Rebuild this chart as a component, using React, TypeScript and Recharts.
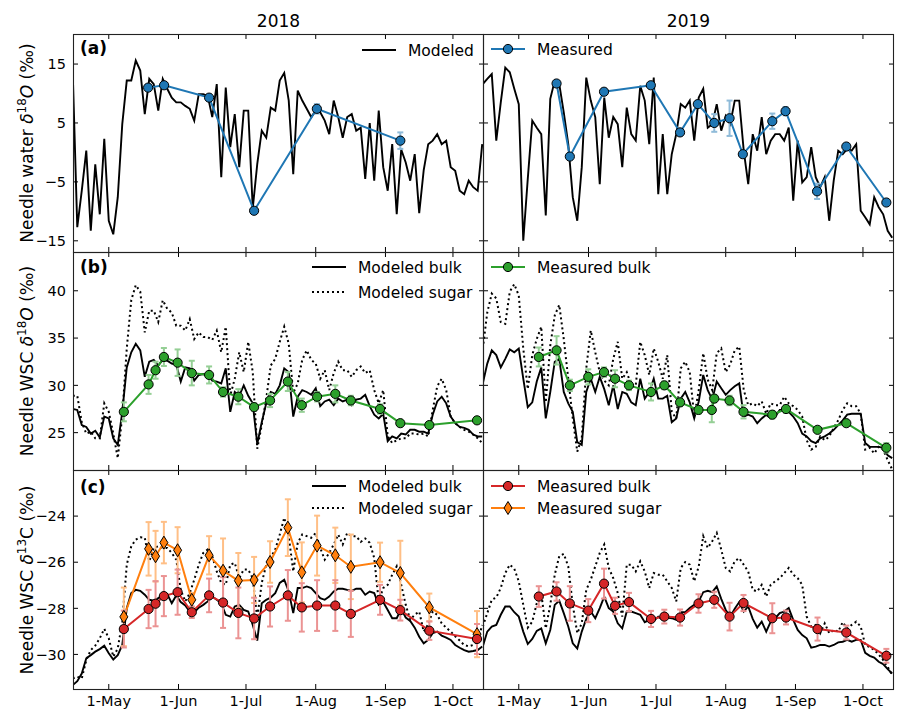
import React from "react";
import { ComposedChart, Line, XAxis, YAxis, ErrorBar } from "recharts";

const BLUE = "#1f77b4";
const GREEN = "#2ca02c";
const RED = "#d62728";
const ORANGE = "#ff7f0e";
const FONT = "'DejaVu Sans', sans-serif";

const W = 901;
const H = 710;

// x is day of year (2018 and 2019 are not leap years)
const monthTicks = [121, 152, 182, 213, 244, 274];
const monthLabels = ["1-May", "1-Jun", "1-Jul", "1-Aug", "1-Sep", "1-Oct"];
const xDomain: [number, number] = [105.1, 287.8];

// modeled series: one value every 2 days from day 105
const modelStart = 105;
const modelStep = 2;

const waterModel2018 = [
  13.3, -12.7, -6.5, 0.3, -13.3, -2.0, -10.5, 2.3, -11.6, -13.9,
  -7.6, 4.8, 12.2, 12.2, 15.6, 13.9, 6.5, 12.5, 11.6, 7.1,
  12.5, 10.8, 9.3, 8.5, 8.5, 7.9, 7.4, 5.4, 9.9, 9.9,
  9.6, 6.0, 11.6, -4.2, 11.0, 0.9, 6.5, -2.5, 7.1, 7.1,
  -9.5, -2.0, 3.7, 2.5, 7.6, 7.1, 12.2, 13.5, 8.8, -3.7,
  10.5, 8.8, 7.4, 6.0, 7.1, 6.8, 5.4, 3.1, 8.8, 6.0,
  2.5, 6.0, 6.5, 3.7, 4.2, -4.5, 5.0, -4.8, 7.1, -2.5,
  -6.5, 1.4, -10.5, 0.5, -1.7, -4.8, -0.3, -10.3, -3.0, 1.4,
  2.0, 3.1, 1.4, 2.0, -2.5, -3.1, -6.5, -7.1, -4.8, -5.9,
  -6.5, 1.4,
];
const waterModel2019 = [
  11.6, 12.5, 13.3, 2.0, 8.5, 14.4, 13.6, 10.8, 8.2, -15.0,
  -4.5, 5.4, 4.2, 3.1, -10.7, 9.1, 12.2, 11.6, 6.8, 1.4,
  -7.6, -11.6, -2.5, 12.7, 8.8, 6.0, -5.4, 9.3, 2.5, 6.0,
  4.8, -2.5, 7.6, 3.1, 2.0, 11.3, 8.8, 1.4, 12.7, -7.1,
  3.1, -7.1, -0.3, 3.1, 8.2, 7.6, 8.8, 2.0, 9.3, 10.8,
  4.2, 4.8, 8.2, 3.7, 6.2, 4.8, 8.8, 8.8, 0.3, -5.4,
  3.1, 0.3, 6.0, -0.3, 2.0, 3.1, 3.1, 2.0, 4.2, -8.2,
  2.0, -5.1, -4.2, 0.9, -4.2, -5.9, -4.2, -11.6, -4.8, 0.3,
  -0.3, 0.6, 0.3, 1.4, -9.9, -11.0, -12.2, -7.6, -9.3, -10.5,
  -13.3, -14.5,
];

const o18Bulk2018 = [
  27.5, 27.4, 25.8, 25.6, 24.9, 25.2, 24.5, 26.7, 26.5, 24.4,
  23.7, 27.2, 31.9, 33.5, 34.4, 33.7, 30.9, 32.5, 32.7, 32.1,
  32.7, 32.6, 32.3, 32.2, 30.4, 31.9, 31.8, 30.5, 31.1, 31.2,
  31.1, 30.5, 30.4, 30.2, 31.8, 27.2, 29.3, 28.9, 30.0, 28.9,
  28.1, 23.8, 26.1, 28.1, 29.3, 29.1, 30.0, 31.8, 31.4, 26.7,
  28.8, 29.5, 29.3, 29.0, 29.7, 27.8, 28.3, 28.5, 27.9, 28.6,
  28.3, 28.5, 27.9, 28.5, 28.6, 29.0, 27.8, 26.9, 26.5, 27.0,
  24.1, 24.6, 24.4, 24.9, 24.8, 25.3, 25.3, 25.1, 25.1, 24.9,
  26.9, 28.3, 28.8, 28.1, 26.7, 26.0, 25.6, 25.5, 25.3, 24.8,
  24.6, 24.6,
];
const o18Sugar2018 = [
  28.9, 28.9, 26.1, 24.9, 25.1, 24.4, 24.4, 28.1, 27.2, 24.9,
  22.3, 26.8, 33.9, 39.0, 40.6, 39.9, 35.6, 37.9, 37.9, 36.7,
  39.0, 38.1, 37.7, 36.3, 36.3, 35.8, 37.0, 34.9, 35.6, 35.1,
  35.1, 34.8, 35.8, 33.5, 36.2, 28.9, 30.7, 33.5, 31.4, 34.6,
  31.4, 23.3, 25.8, 28.6, 32.1, 32.8, 34.6, 36.2, 34.4, 29.2,
  30.2, 32.7, 33.7, 32.7, 32.3, 30.7, 31.6, 29.5, 31.3, 32.5,
  31.6, 31.6, 30.9, 31.6, 32.0, 31.3, 31.6, 29.5, 28.1, 29.5,
  24.6, 23.9, 24.2, 24.4, 24.4, 24.9, 24.9, 24.8, 24.9, 24.6,
  27.4, 29.9, 30.7, 29.5, 26.7, 26.0, 25.6, 25.3, 25.1, 24.8,
  24.4, 23.9,
];
const o18Bulk2019 = [
  30.2, 32.3, 33.7, 33.2, 31.9, 32.8, 33.8, 33.5, 33.9, 30.7,
  27.7, 28.2, 30.4, 31.9, 26.5, 29.3, 32.5, 32.8, 29.3, 28.1,
  27.2, 24.0, 23.7, 29.3, 30.7, 29.3, 30.9, 29.6, 27.9, 30.0,
  27.5, 29.3, 29.1, 28.2, 27.9, 30.7, 28.6, 29.3, 30.7, 28.6,
  28.6, 28.9, 26.1, 26.5, 28.6, 29.3, 28.2, 26.5, 28.3, 31.1,
  29.5, 28.5, 30.4, 29.7, 29.0, 29.5, 29.9, 30.2, 26.7, 26.9,
  26.7, 26.0, 26.5, 26.9, 26.5, 26.7, 27.4, 27.4, 27.2, 26.7,
  26.0, 24.9, 24.6, 24.1, 23.9, 24.4, 24.6, 24.9, 25.3, 25.8,
  26.3, 26.9, 27.0, 27.0, 27.0, 23.9, 23.5, 23.5, 23.5, 23.4,
  22.6, 22.3,
];
const o18Sugar2019 = [
  33.9, 37.7, 39.7, 39.2, 36.7, 36.5, 39.9, 40.7, 39.5, 33.9,
  29.6, 33.2, 34.9, 36.2, 28.2, 34.2, 37.4, 38.5, 34.9, 30.7,
  26.5, 23.0, 24.4, 31.8, 35.8, 33.5, 31.4, 30.5, 30.0, 32.8,
  34.6, 30.7, 31.4, 30.0, 30.0, 34.6, 33.2, 31.1, 33.9, 32.5,
  30.7, 33.2, 27.2, 26.5, 31.8, 32.5, 31.4, 26.7, 29.5, 33.4,
  30.6, 29.5, 33.4, 33.9, 31.4, 32.2, 33.7, 34.1, 29.5, 27.9,
  28.1, 27.8, 28.3, 27.0, 28.1, 27.9, 27.9, 28.8, 28.1, 27.8,
  27.4, 26.7, 24.2, 23.2, 23.5, 24.6, 24.2, 24.6, 25.5, 26.3,
  27.4, 28.1, 27.8, 27.8, 27.0, 23.2, 23.4, 22.8, 23.5, 23.2,
  22.1, 21.1,
];

const c13Bulk2018 = [
  -31.33, -31.16, -30.83, -30.17, -30.03, -29.88, -29.77, -29.62, -29.95, -30.22,
  -30.03, -29.59, -28.0, -27.34, -27.2, -27.24, -27.41, -27.63, -27.67, -27.56,
  -27.44, -27.38, -27.78, -27.44, -27.73, -27.88, -28.14, -28.18, -27.97, -27.85,
  -27.7, -27.49, -27.63, -27.78, -28.28, -28.36, -27.92, -27.85, -28.07, -28.14,
  -28.72, -29.4, -27.78, -27.63, -27.53, -27.34, -26.9, -26.76, -27.27, -28.21,
  -27.12, -27.12, -27.05, -27.12, -27.34, -27.56, -27.63, -27.49, -27.27, -27.15,
  -27.15, -27.2, -27.24, -27.15, -27.15, -27.41, -27.27, -27.34, -27.85, -27.73,
  -28.07, -28.43, -28.43, -28.02, -28.4, -28.55, -28.84, -29.23, -29.52, -29.37,
  -29.08, -29.01, -29.19, -29.27, -29.37, -29.59, -29.71, -29.81, -29.88, -29.85,
  -29.81, -29.66,
];
const c13Sugar2018 = [
  -31.04, -30.97, -31.04, -30.25, -29.81, -29.62, -29.3, -28.89, -29.3, -30.1,
  -29.74, -28.58, -26.11, -25.31, -25.02, -24.92, -24.94, -25.96, -25.38, -25.31,
  -25.38, -25.38, -25.6, -25.89, -27.2, -27.7, -27.34, -26.76, -26.11, -25.6,
  -25.45, -25.74, -26.4, -26.9, -26.98, -26.11, -26.03, -26.69, -26.32, -26.32,
  -26.69, -28.43, -26.9, -26.11, -25.79, -25.45, -24.8, -24.07, -24.87, -26.4,
  -25.16, -24.8, -24.87, -24.94, -24.73, -25.38, -25.89, -25.6, -25.23, -24.8,
  -25.23, -24.73, -24.87, -24.87, -25.12, -24.97, -25.16, -25.82, -27.7, -27.12,
  -26.98, -26.54, -26.18, -26.98, -27.85, -28.5, -28.28, -28.14, -29.01, -28.69,
  -28.14, -28.28, -28.65, -28.84, -29.01, -29.21, -29.4, -29.59, -29.65, -29.59,
  -29.45, -28.72,
];
const c13Bulk2019 = [
  -29.66, -29.01, -28.79, -28.72, -28.28, -27.92, -27.92, -28.17, -28.36, -29.01,
  -29.55, -29.33, -28.98, -28.87, -29.52, -28.94, -27.85, -27.67, -28.21, -28.79,
  -29.52, -29.74, -29.01, -28.46, -28.14, -28.43, -27.99, -27.49, -27.99, -28.14,
  -28.65, -28.87, -28.14, -28.14, -28.21, -28.28, -28.6, -28.5, -28.55, -28.36,
  -28.5, -28.4, -28.43, -28.5, -28.17, -28.17, -27.99, -27.85, -27.7, -27.3,
  -27.24, -27.3, -27.05, -27.59, -28.07, -28.36, -28.02, -27.73, -28.14, -27.92,
  -28.46, -28.84, -28.58, -29.01, -28.58, -28.43, -28.21, -28.14, -27.99, -28.5,
  -28.94, -29.16, -29.3, -29.71, -29.66, -29.59, -29.59, -29.66, -29.59, -29.48,
  -29.45, -29.37, -29.45, -29.37, -29.37, -29.93, -30.06, -30.14, -30.32, -30.42,
  -30.64, -30.83,
];
const c13Sugar2019 = [
  -28.79, -28.21, -27.63, -27.53, -27.12, -26.47, -26.11, -26.28, -26.83, -27.85,
  -28.84, -28.58, -27.78, -27.34, -28.87, -27.85, -26.54, -25.74, -25.64, -26.18,
  -27.85, -29.08, -28.65, -27.2, -26.76, -26.18, -25.6, -25.23, -26.25, -26.69,
  -27.34, -28.36, -26.11, -26.11, -26.4, -25.96, -26.4, -27.12, -26.47, -26.54,
  -26.54, -26.83, -27.12, -27.7, -26.25, -25.99, -26.11, -26.83, -26.18, -24.87,
  -25.38, -25.09, -24.73, -25.45, -26.25, -26.4, -25.96, -25.82, -26.11, -26.4,
  -27.2, -27.27, -26.98, -27.49, -26.98, -26.83, -26.69, -26.47, -26.25, -26.54,
  -26.69, -26.98, -28.36, -28.79, -28.72, -29.08, -28.65, -29.08, -28.94, -29.01,
  -28.6, -28.87, -28.72, -28.58, -28.79, -29.59, -29.68, -29.81, -30.0, -30.25,
  -30.54, -30.9,
];

// measured samples
const waterDays2018 = [138.5, 145.6, 165.6, 185.6, 213.5, 250.6];
const waterMeas2018 = [11.0, 11.4, 9.3, -9.9, 7.4, 2.0];
const waterErr2018 = [0.3, 0.3, 0.4, 0.3, 0.8, 1.4];

const waterDays2019 = [137.8, 143.7, 158.9, 179.7, 192.7, 200.6, 207.9, 214.7, 220.6, 233.7, 239.6, 253.6, 266.6, 284.4];
const waterMeas2019 = [11.7, -0.7, 10.3, 11.4, 3.4, 8.2, 5.0, 5.8, -0.3, 5.3, 7.0, -6.6, 1.0, -8.5];
const waterErr2019 = [0.3, 0.3, 0.5, 0.3, 0.3, 0.4, 1.5, 3.0, 0.3, 1.3, 0.7, 1.3, 0.3, 0.3];

const wscDays2018 = [127.7, 138.7, 141.8, 145.5, 151.6, 157.9, 165.6, 171.8, 178.6, 185.6, 192.7, 200.6, 206.8, 213.6, 221.7, 228.6, 241.6, 250.6, 263.5, 284.7];
const o18Meas2018 = [27.2, 30.1, 31.6, 33.0, 32.4, 31.3, 31.1, 29.3, 28.8, 27.7, 28.4, 30.4, 27.9, 28.8, 29.1, 28.4, 27.5, 26.0, 25.8, 26.3];
const o18Err2018 = [1.0, 1.0, 0.9, 0.95, 1.4, 1.3, 0.9, 0.5, 0.8, 0.4, 0.7, 1.0, 0.7, 0.5, 0.9, 0.5, 0.5, 0.3, 0.3, 0.3];
const c13BulkMeas2018 = [-28.9, -28.03, -27.8, -27.47, -27.3, -28.17, -27.44, -27.75, -28.2, -28.44, -27.92, -27.44, -27.96, -27.88, -27.88, -28.24, -27.63, -28.08, -28.97, -29.33];
const c13BulkErr2018 = [0.8, 0.83, 0.98, 0.87, 0.98, 0.25, 0.73, 1.1, 1.1, 0.9, 0.87, 1.1, 1.05, 1.1, 1.1, 1.0, 0.65, 0.45, 0.4, 0.65];
const c13SugarMeas2018 = [-28.37, -25.42, -25.74, -25.15, -25.48, -27.63, -25.7, -26.37, -26.8, -26.77, -25.99, -24.5, -26.44, -25.28, -25.7, -26.2, -26.0, -26.47, -27.96, -29.12];
const c13SugarErr2018 = [1.27, 1.16, 1.1, 0.9, 1.0, 0.3, 0.83, 1.4, 1.2, 1.0, 0.9, 1.23, 1.3, 1.3, 1.2, 1.4, 0.85, 1.4, 0.6, 1.0];

const o18Days2019 = [129.9, 137.8, 143.7, 151.9, 158.9, 163.8, 170.0, 179.8, 185.7, 192.7, 200.9, 206.8, 207.9, 214.7, 220.9, 233.7, 239.8, 253.8, 266.6, 284.4];
const o18Meas2019 = [33.0, 33.7, 30.0, 30.9, 31.4, 30.7, 30.0, 29.3, 30.0, 28.2, 27.4, 27.4, 28.6, 28.4, 27.2, 26.9, 27.5, 25.3, 26.0, 23.4];
const o18Err2019 = [1.0, 1.5, 0.6, 0.8, 0.5, 0.9, 0.5, 0.9, 0.4, 0.4, 0.4, 1.3, 0.4, 0.5, 0.7, 0.4, 0.4, 0.3, 0.3, 0.5];

const c13Days2019 = [129.9, 137.8, 143.7, 151.9, 158.9, 163.8, 170.0, 179.8, 185.7, 192.7, 200.9, 207.9, 214.7, 220.9, 233.7, 239.8, 253.8, 266.6, 284.4];
const c13BulkMeas2019 = [-27.49, -27.27, -27.79, -28.1, -26.93, -27.89, -27.73, -28.46, -28.36, -28.4, -27.79, -27.63, -28.36, -27.77, -28.43, -28.4, -28.9, -29.05, -30.06];
const c13BulkErr2019 = [0.45, 0.4, 0.75, 0.5, 0.65, 0.35, 0.4, 0.35, 0.3, 0.35, 0.4, 0.35, 0.6, 0.35, 0.65, 0.3, 0.5, 0.3, 0.3];

const toModel = (vals: number[]) => vals.map((v, i) => ({ day: modelStart + modelStep * i, v }));
const toMeas = (days: number[], vals: number[], errs: number[]) =>
  days.map((d, i) => ({ day: d, v: vals[i], e: errs[i] }));

const cols = [
  { left: 73, right: 484 },
  { left: 483, right: 894 },
];
const rows = [
  { top: 34, bottom: 252 },
  { top: 252, bottom: 470 },
  { top: 470, bottom: 689 },
];

const fmt = (v: number) => (v < 0 ? `\u2212${Math.abs(v)}` : `${v}`);

type PanelProps = {
  col: number;
  row: number;
  yDomain: [number, number];
  yTicks: number[];
  children: React.ReactNode;
};

// axes keep 1px so recharts still renders their ticks
const AXIS_PX = 1;

const Panel = ({ col, row, yDomain, yTicks, children }: PanelProps) => {
  const c = cols[col];
  const r = rows[row];
  const showY = col === 0;
  const showX = row === 2;
  return (
    <div style={{ position: "absolute", left: 0, top: 0 }}>
      <ComposedChart
        width={W}
        height={H}
        margin={{ top: r.top, bottom: H - r.bottom - AXIS_PX, left: c.left - AXIS_PX, right: W - c.right }}
      >
        <XAxis
          type="number"
          dataKey="day"
          domain={xDomain}
          allowDataOverflow
          ticks={monthTicks}
          interval={0}
          height={AXIS_PX}
          axisLine={false}
          tickLine={false}
          tick={(p: any) => {
            const x = p.payload?.coordinate ?? p.x;
            const i = monthTicks.indexOf(p.payload.value);
            return (
              <g>
                <line x1={x} x2={x} y1={r.bottom} y2={r.bottom - 5} stroke="#000" />
                <line x1={x} x2={x} y1={r.top} y2={r.top + 5} stroke="#000" />
                {showX && (
                  <text x={x} y={r.bottom + 17} textAnchor="middle" fontSize={14.5} fontFamily={FONT} fill="#000">
                    {monthLabels[i]}
                  </text>
                )}
              </g>
            );
          }}
        />
        <YAxis
          type="number"
          domain={yDomain}
          allowDataOverflow
          ticks={yTicks}
          interval={0}
          width={AXIS_PX}
          axisLine={false}
          tickLine={false}
          tick={(p: any) => {
            const y = p.payload?.coordinate ?? p.y;
            return (
              <g>
                <line x1={c.left} x2={c.left + 5} y1={y} y2={y} stroke="#000" />
                <line x1={c.right} x2={c.right - 5} y1={y} y2={y} stroke="#000" />
                {showY && (
                  <text x={c.left - 7} y={y} dy="0.36em" textAnchor="end" fontSize={14.5} fontFamily={FONT} fill="#000">
                    {fmt(p.payload.value)}
                  </text>
                )}
              </g>
            );
          }}
        />
        {children}
      </ComposedChart>
    </div>
  );
};

const modelLine = (vals: number[], dotted = false) => (
  <Line
    data={toModel(vals)}
    dataKey="v"
    type="linear"
    stroke="#000"
    strokeWidth={dotted ? 2 : 1.9}
    strokeDasharray={dotted ? "2 3" : undefined}
    dot={false}
    activeDot={false}
    isAnimationActive={false}
  />
);

const circleDot = (color: string) => ({ r: 4.6, fill: color, stroke: "#000", strokeWidth: 1 });

const diamondDot = (props: any) => {
  const { cx, cy, key } = props;
  if (cx == null || cy == null) return <g key={key} />;
  return (
    <polygon
      key={key}
      points={`${cx},${cy - 6.5} ${cx + 4},${cy} ${cx},${cy + 6.5} ${cx - 4},${cy}`}
      fill={ORANGE}
      stroke="#000"
      strokeWidth={1}
    />
  );
};

const measLine = (data: any[], color: string, errColor: string, diamond = false) => (
  <Line
    data={data}
    dataKey="v"
    type="linear"
    stroke={color}
    strokeWidth={2}
    dot={diamond ? diamondDot : circleDot(color)}
    activeDot={false}
    isAnimationActive={false}
  >
    <ErrorBar dataKey="e" direction="y" width={3} stroke={errColor} strokeWidth={2} />
  </Line>
);

const legendItems = [
  { x: 362, y: 50, kind: "solid", label: "Modeled" },
  { x: 491, y: 49, kind: "circle", color: BLUE, label: "Measured" },
  { x: 312, y: 267, kind: "solid", label: "Modeled bulk" },
  { x: 312, y: 292, kind: "dotted", label: "Modeled sugar" },
  { x: 491, y: 267, kind: "circle", color: GREEN, label: "Measured bulk" },
  { x: 312, y: 486, kind: "solid", label: "Modeled bulk" },
  { x: 312, y: 508, kind: "dotted", label: "Modeled sugar" },
  { x: 491, y: 486, kind: "circle", color: RED, label: "Measured bulk" },
  { x: 491, y: 508, kind: "diamond", color: ORANGE, label: "Measured sugar" },
];

const LegendItem = ({ item }: { item: any }) => {
  const { x, y, kind, color, label } = item;
  const lineColor = kind === "solid" || kind === "dotted" ? "#000" : color;
  const mx = x + 17;
  return (
    <g>
      <line
        x1={x}
        x2={x + 34}
        y1={y}
        y2={y}
        stroke={lineColor}
        strokeWidth={2}
        strokeDasharray={kind === "dotted" ? "2 3" : undefined}
      />
      {kind === "circle" && <circle cx={mx} cy={y} r={4.6} fill={color} stroke="#000" strokeWidth={1} />}
      {kind === "diamond" && (
        <polygon
          points={`${mx},${y - 6.5} ${mx + 4},${y} ${mx},${y + 6.5} ${mx - 4},${y}`}
          fill={color}
          stroke="#000"
          strokeWidth={1}
        />
      )}
      <text x={x + 46} y={y + 5.7} fontSize={15.5} fill="#000">
        {label}
      </text>
    </g>
  );
};

const YLabel = ({ cy, middle, iso, elem, italicElem }: any) => (
  <text transform={`translate(33, ${cy}) rotate(-90)`} textAnchor="middle" fontSize={17} fill="#000">
    {`Needle ${middle} `}
    <tspan fontStyle="italic">δ</tspan>
    <tspan baselineShift="super" fontSize={12}>
      {iso}
    </tspan>
    <tspan fontStyle={italicElem ? "italic" : "normal"}>{elem}</tspan>
    {" (‰)"}
  </text>
);

const Overlay = () => (
  <svg
    width={W}
    height={H}
    style={{ position: "absolute", left: 0, top: 0, pointerEvents: "none" }}
    fontFamily={FONT}
  >
    {rows.map((r, ri) =>
      cols.map((c, ci) => (
        <rect
          key={`${ri}-${ci}`}
          x={c.left + 0.5}
          y={r.top + 0.5}
          width={c.right - c.left - 1}
          height={r.bottom - r.top}
          fill="none"
          stroke="#222"
          strokeWidth={1.1}
        />
      ))
    )}
    <text x={278.5} y={26.5} textAnchor="middle" fontSize={17}>
      2018
    </text>
    <text x={688.5} y={26.5} textAnchor="middle" fontSize={17}>
      2019
    </text>
    <text x={80} y={54} fontSize={17} fontWeight="bold">
      (a)
    </text>
    <text x={80} y={273} fontSize={17} fontWeight="bold">
      (b)
    </text>
    <text x={80} y={493} fontSize={17} fontWeight="bold">
      (c)
    </text>
    <YLabel cy={143} middle="water" iso="18" elem="O" italicElem />
    <YLabel cy={361} middle="WSC" iso="18" elem="O" italicElem />
    <YLabel cy={580} middle="WSC" iso="13" elem="C" italicElem={false} />
    {legendItems.map((item, i) => (
      <LegendItem key={i} item={item} />
    ))}
  </svg>
);

export default function App() {
  return (
    <div
      style={{
        position: "absolute",
        left: 0,
        top: 0,
        width: W,
        height: H,
        background: "#fff",
        fontFamily: FONT,
      }}
    >
      <Panel col={0} row={0} yDomain={[-16.9, 20.1]} yTicks={[-15, -5, 5, 15]}>
        {modelLine(waterModel2018)}
        {measLine(toMeas(waterDays2018, waterMeas2018, waterErr2018), BLUE, "#8fbbd9")}
      </Panel>
      <Panel col={1} row={0} yDomain={[-16.9, 20.1]} yTicks={[-15, -5, 5, 15]}>
        {modelLine(waterModel2019)}
        {measLine(toMeas(waterDays2019, waterMeas2019, waterErr2019), BLUE, "#8fbbd9")}
      </Panel>
      <Panel col={0} row={1} yDomain={[21.05, 44.1]} yTicks={[25, 30, 35, 40]}>
        {modelLine(o18Bulk2018)}
        {modelLine(o18Sugar2018, true)}
        {measLine(toMeas(wscDays2018, o18Meas2018, o18Err2018), GREEN, "#95cf95")}
      </Panel>
      <Panel col={1} row={1} yDomain={[21.05, 44.1]} yTicks={[25, 30, 35, 40]}>
        {modelLine(o18Bulk2019)}
        {modelLine(o18Sugar2019, true)}
        {measLine(toMeas(o18Days2019, o18Meas2019, o18Err2019), GREEN, "#95cf95")}
      </Panel>
      <Panel col={0} row={2} yDomain={[-31.5, -22.0]} yTicks={[-30, -28, -26, -24]}>
        {modelLine(c13Bulk2018)}
        {modelLine(c13Sugar2018, true)}
        {measLine(toMeas(wscDays2018, c13SugarMeas2018, c13SugarErr2018), ORANGE, "#ffbf86", true)}
        {measLine(toMeas(wscDays2018, c13BulkMeas2018, c13BulkErr2018), RED, "#eb9393")}
      </Panel>
      <Panel col={1} row={2} yDomain={[-31.5, -22.0]} yTicks={[-30, -28, -26, -24]}>
        {modelLine(c13Bulk2019)}
        {modelLine(c13Sugar2019, true)}
        {measLine(toMeas(c13Days2019, c13BulkMeas2019, c13BulkErr2019), RED, "#eb9393")}
      </Panel>
      <Overlay />
    </div>
  );
}
